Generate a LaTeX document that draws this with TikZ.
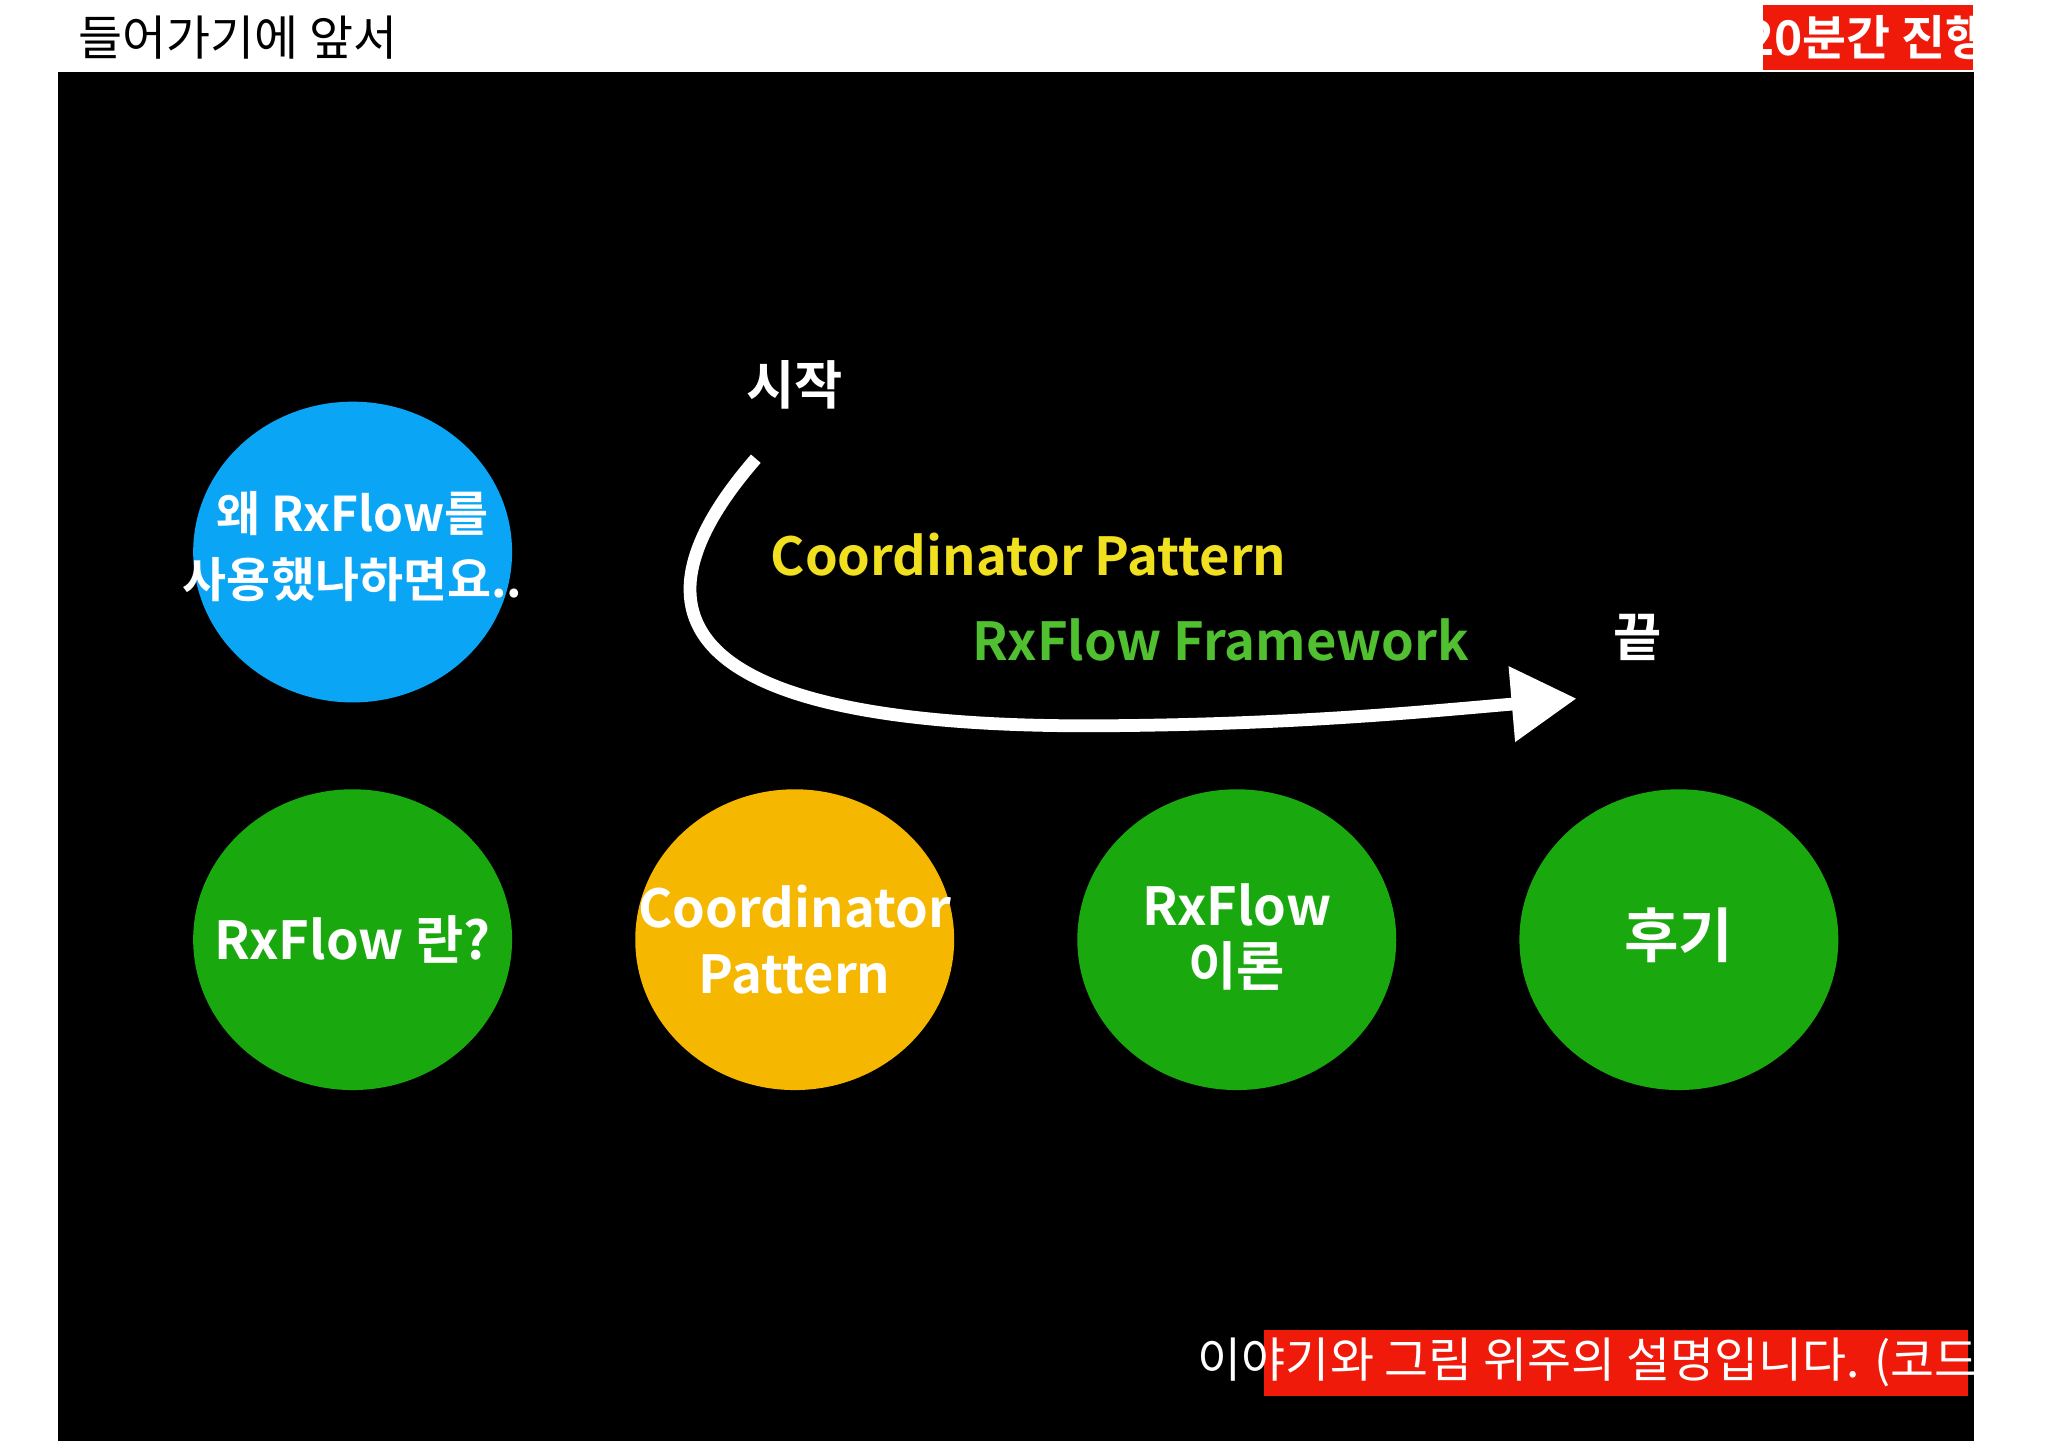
\documentclass[tikz,border=0pt]{standalone}
\usepackage{fontspec}
\setmainfont{Noto Sans CJK KR}[BoldFont={Noto Sans CJK KR Bold}]
\usetikzlibrary{arrows.meta}
\definecolor{cblue}{HTML}{0AA5F5}
\definecolor{cgreen}{HTML}{1AA80F}
\definecolor{corange}{HTML}{F5B700}
\definecolor{cyel}{HTML}{F0E020}
\definecolor{clgreen}{HTML}{50C030}
\definecolor{cred}{HTML}{F01A0A}
\begin{document}
\begin{tikzpicture}[x=0.01cm,y=-0.01cm,
  blob/.style={ellipse,minimum width=246\pgflinewidth},
  circ/.style={text=white,font=\fontsize{11.5}{13.5}\selectfont\bfseries,align=center},
  lbl/.style={font=\fontsize{11.5}{13}\selectfont\bfseries}]
\fill[white] (0,0) rectangle (1568,1108);
\fill[black] (45,52) rectangle (1523,1108);
\node[anchor=west,font=\fontsize{10.5}{12}\selectfont] (title) at (48,25) {들어가기에 앞서};
\fill[cred] (1360,0) rectangle (1522,50);
\node[text=white,font=\fontsize{10.5}{12}\selectfont\bfseries] (time) at (1441,25) {20분간 진행};
\fill[cblue] (272,422) ellipse [x radius=123,y radius=116];
\node[circ,font=\fontsize{10.5}{14.5}\selectfont\bfseries] (why) at (272,418) {왜 RxFlow를\\사용했나하면요..};
\fill[cgreen] (272,721) ellipse [x radius=123,y radius=116];
\node[circ] (rx) at (272,721) {RxFlow 란?};
\fill[corange] (613,721) ellipse [x radius=123,y radius=116];
\node[circ,font=\fontsize{11.5}{14.5}\selectfont\bfseries] (coord) at (613,721) {Coordinator\\Pattern};
\fill[cgreen] (954,721) ellipse [x radius=123,y radius=116];
\node[circ,font=\fontsize{11.5}{13}\selectfont\bfseries] (theory) at (954,719) {RxFlow\\이론};
\fill[cgreen] (1295,721) ellipse [x radius=123,y radius=116];
\node[circ,font=\fontsize{13}{15}\selectfont\bfseries] (after) at (1295,718) {후기};
\node[lbl,text=white] (start) at (613,293) {시작};
\node[lbl,text=white] (end) at (1263,488) {끝};
\node[lbl,text=cyel,anchor=west] (cp) at (582,424) {Coordinator Pattern};
\node[lbl,text=clgreen,anchor=west] (rf) at (738,490) {RxFlow Framework};
\coordinate (a0) at (583,350);
\coordinate (a1) at (850,556);
\coordinate (a2) at (1216,535);
\draw[white,line width=2.8pt,-{Triangle[length=0.5cm,width=0.56cm]}]
  (a0) .. controls (470,480) and (540,558) .. (a1) .. controls (1000,555) and (1100,545) .. (a2);
\fill[cred] (975,1022) rectangle (1518,1073);
\node[text=white,font=\fontsize{10.5}{12}\selectfont] (note) at (1246,1047) {이야기와 그림 위주의 설명입니다. (코드 X)};
\end{tikzpicture}
\end{document}
